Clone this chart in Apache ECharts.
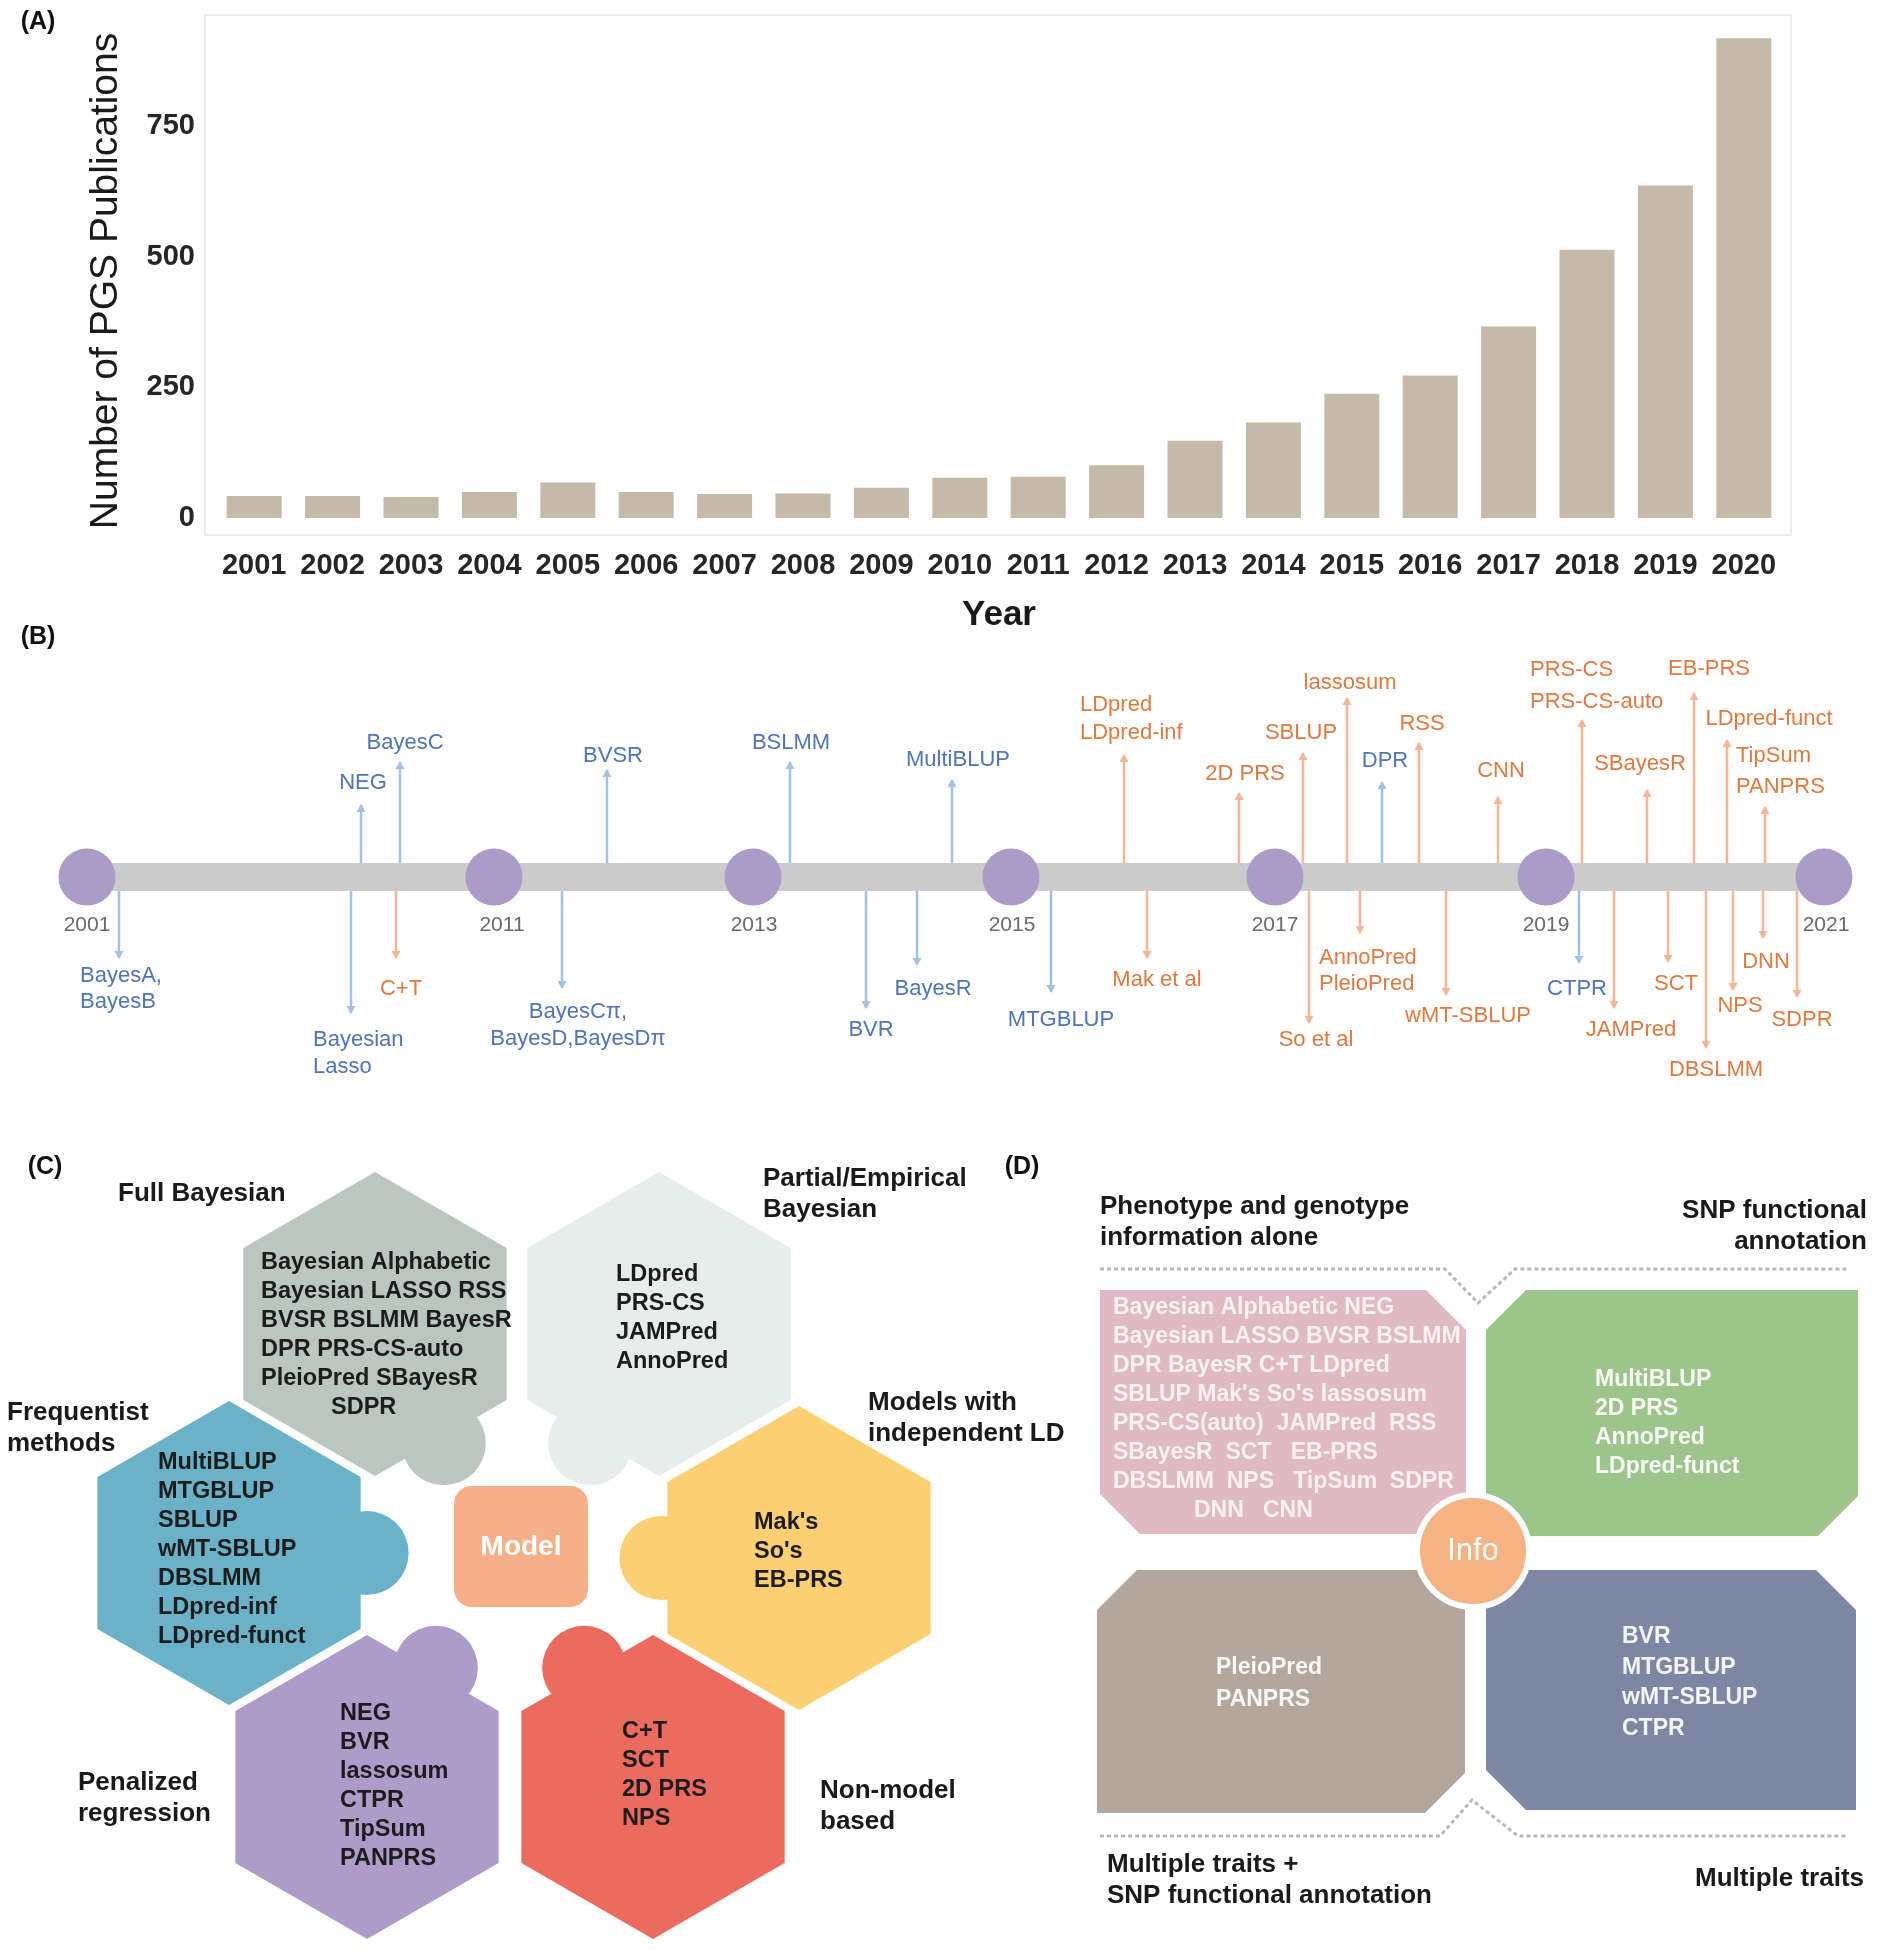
<!DOCTYPE html>
<html><head><meta charset="utf-8">
<script src="https://cdn.jsdelivr.net/npm/echarts@6/dist/echarts.min.js"></script>
<style>html,body{margin:0;padding:0;background:#fff}#c{width:1877px;height:1950px}</style>
</head><body><div id="c"></div>
<script>
const FONT = '"Liberation Sans", Arial, Helvetica, sans-serif';

// ---------- Panel A data ----------
const years = ['2001','2002','2003','2004','2005','2006','2007','2008','2009','2010','2011','2012','2013','2014','2015','2016','2017','2018','2019','2020'];
const publications = [42,42,40,50,68,50,46,47,58,77,79,101,148,183,238,273,367,514,637,919];

// ---------- Panel B data ----------
const milestoneYears = ['2001','2011','2013','2015','2017','2019','2021'];
const eventLabels = ['BayesA,\nBayesB','NEG','BayesC','Bayesian\nLasso','C+T','BVSR','BayesCπ,\nBayesD,BayesDπ','BSLMM','BVR','BayesR','MultiBLUP','MTGBLUP','LDpred\nLDpred-inf','Mak et al','2D PRS','SBLUP','So et al','lassosum','AnnoPred\nPleioPred','DPR','RSS','wMT-SBLUP','CNN','PRS-CS\nPRS-CS-auto','CTPR','JAMPred','SBayesR','SCT','EB-PRS','DBSLMM','LDpred-funct','NPS','TipSum\nPANPRS','DNN','SDPR'];
const eventKind = ['b','b','b','b','o','b','b','b','b','b','b','b','o','o','o','o','o','o','o','b','o','o','o','o','b','o','o','o','o','o','o','o','o','o','o'];

// ---------- Panel C data ----------
const hexTitles = ['Full Bayesian','Partial/Empirical\nBayesian','Frequentist\nmethods','Models with\nindependent LD','Penalized\nregression','Non-model\nbased'];
const hexMethods = [
  ['Bayesian Alphabetic','Bayesian LASSO RSS','BVSR BSLMM BayesR','DPR PRS-CS-auto','PleioPred SBayesR','SDPR'],
  ['LDpred','PRS-CS','JAMPred','AnnoPred'],
  ['MultiBLUP','MTGBLUP','SBLUP','wMT-SBLUP','DBSLMM','LDpred-inf','LDpred-funct'],
  ["Mak's","So's",'EB-PRS'],
  ['NEG','BVR','lassosum','CTPR','TipSum','PANPRS'],
  ['C+T','SCT','2D PRS','NPS']
];
const modelLabel = 'Model';

// ---------- Panel D data ----------
const infoTitles = ['Phenotype and genotype\ninformation alone','SNP functional\nannotation','Multiple traits +\nSNP functional annotation','Multiple traits'];
const infoMethods = [
  ['Bayesian Alphabetic NEG','Bayesian LASSO BVSR BSLMM','DPR BayesR C+T LDpred',"SBLUP Mak's So's lassosum",'PRS-CS(auto)  JAMPred  RSS','SBayesR  SCT   EB-PRS','DBSLMM  NPS   TipSum  SDPR','DNN   CNN'],
  ['MultiBLUP','2D PRS','AnnoPred','LDpred-funct'],
  ['PleioPred','PANPRS'],
  ['BVR','MTGBLUP','wMT-SBLUP','CTPR']
];
const infoLabel = 'Info';

// ================= layout / style =================
const TL_Y = 877;
const milestoneX = [87,494,753,1011,1275,1546,1824];
const stemX = [119,361,400,351,396,607,562,790,866,917,952,1051,1124,1147,1239,1303,1309,1347,1360,1382,1419,1446,1498,1582,1579,1614,1647,1668,1694,1706,1727,1733,1765,1763,1797];
const stemTip = [958,805,762,1013,958,770,988,762,1008,965,780,992,755,958,793,753,1023,698,933,782,743,995,797,720,963,1008,790,962,693,1048,740,990,807,938,997];
const labelX = [80,363,405,313,401,613,578,791,871,933,958,1061,1080,1157,1245,1301,1316,1350,1319,1385,1422,1468,1501,1530,1577,1631,1640,1676,1709,1716,1769,1740,1736,1766,1802];
const labelY = [976,783,743,1040,989,756,1012,743,1030,989,760,1020,705,980,774,733,1040,683,958,761,724,1016,771,670,989,1030,764,984,669,1070,719,1006,756,962,1020];
const labelAlign = ['left','center','center','left','center','center','center','center','center','center','center','center','left','center','center','center','center','center','left','center','center','center','center','left','center','center','center','center','center','center','center','center','left','center','center'];
const labelLH = [26,26,26,27,26,26,27,26,26,26,26,26,28,26,26,26,26,26,26,26,26,26,26,32,26,26,26,26,26,26,26,26,31,26,26];
const yearLabelDx = [0,8,1,1,0,0,2];
const STEM_BLUE = '#a3c1e5', STEM_OR = '#f6b595', TEXT_BLUE = '#4f74b9', TEXT_OR = '#e07940';

const hexCenter = [[375,1324],[659,1324],[229,1553],[799,1558],[367,1787],[653,1787]];
const hexColor = ['#b9c7c0','#e6eeeb','#6bb1c8','#fcd072','#ad9cc9','#eb6b5f'];
const knobAngle = [60,120,0,180,-60,-120];
const hexTextLeft = [261,616,158,754,340,622];
const hexTextFirst = [1263,1275,1463,1523,1714,1732];
const hexLastIndent = [70,0,0,0,0,0];
const hexTitlePos = [[118,1194],[763,1179],[7,1413],[868,1403],[78,1783],[820,1791]];
const HEX_R = 152;

const quadRect = [[1100,1290,1466,1534],[1486,1290,1858,1536],[1097,1570,1465,1813],[1486,1570,1856,1810]];
const quadChamfer = [['tr','bl'],['tl','br'],['tl','br'],['tr','bl']];
const quadColor = ['#dfbac3','#9cc48b','#b3a69c','#7d86a2'];
const quadTextColor = ['#faf1f3','#f6fbf3','#fbf8f5','#f4f5f9'];
const quadTextLeft = [1113,1595,1216,1622];
const quadTextFirst = [1308,1380,1668,1637];
const quadLH = [29,29,32,30.5];
const quadLastIndent = [81,0,0,0];
const quadTitlePos = [[1100,1207,'left'],[1867,1211,'right'],[1107,1865,'left'],[1864,1879,'right']];

function T(p, text, o){
  const lh = o.lh || Math.round(o.size*1.2);
  return {type:'text', x:p[0], y:p[1]-lh/2, z2:10, style:{text:text, fill:o.color, fontSize:o.size, fontWeight:o.weight||'normal', fontFamily:FONT, align:o.align||'left', verticalAlign:'top', lineHeight:lh}};
}

const chart = echarts.init(document.getElementById('c'));

const option = {
  animation:false,
  backgroundColor:'#ffffff',
  textStyle:{fontFamily:FONT},
  grid:[{left:215, top:22, width:1568, height:496}, {left:0, top:0, width:1877, height:1950}],
  xAxis:[
    {type:'category', gridIndex:0, data:years, axisLine:{show:false}, axisTick:{show:false},
     axisLabel:{interval:0, fontSize:29, fontWeight:'bold', color:'#262626', margin:33, fontFamily:FONT},
     name:'Year', nameLocation:'middle', nameGap:80, nameTextStyle:{fontSize:35, fontWeight:'bold', color:'#1a1a1a', fontFamily:FONT}},
    {type:'value', gridIndex:1, min:0, max:1877, show:false}
  ],
  yAxis:[
    {type:'value', gridIndex:0, min:0, max:950, interval:250, axisLine:{show:false}, axisTick:{show:false}, splitLine:{show:false},
     axisLabel:{fontSize:29, fontWeight:'bold', color:'#262626', margin:20, showMaxLabel:false, fontFamily:FONT},
     name:'Number of PGS Publications', nameLocation:'middle', nameGap:89,
     nameTextStyle:{fontSize:39, color:'#1a1a1a', fontFamily:FONT, padding:[0,22,0,0]}},
    {type:'value', gridIndex:1, min:0, max:1950, inverse:true, show:false}
  ],
  graphic:[
    {type:'rect', shape:{x:205, y:15, width:1586, height:520}, style:{fill:'none', stroke:'#ececec', lineWidth:2}, z:0},
    {type:'text', x:38, y:22, style:{text:'(A)', fontSize:25, fontWeight:'bold', fill:'#111', align:'center', verticalAlign:'middle', fontFamily:FONT}},
    {type:'text', x:38, y:637, style:{text:'(B)', fontSize:25, fontWeight:'bold', fill:'#111', align:'center', verticalAlign:'middle', fontFamily:FONT}},
    {type:'text', x:45, y:1167, style:{text:'(C)', fontSize:25, fontWeight:'bold', fill:'#111', align:'center', verticalAlign:'middle', fontFamily:FONT}},
    {type:'text', x:1022, y:1167, style:{text:'(D)', fontSize:25, fontWeight:'bold', fill:'#111', align:'center', verticalAlign:'middle', fontFamily:FONT}}
  ],
  series:[
    {type:'bar', xAxisIndex:0, yAxisIndex:0, data:publications, barWidth:55, itemStyle:{color:'#c5b9a7'}},
    // timeline events (stems + labels)
    {type:'custom', xAxisIndex:1, yAxisIndex:1, z:2, clip:false,
     data: stemX.map((x,i)=>[x, stemTip[i]]),
     renderItem:function(params, api){
       const i = params.dataIndex;
       const up = stemTip[i] < TL_Y;
       const base = api.coord([stemX[i], up ? TL_Y-12 : TL_Y+12]);
       const tip = api.coord([api.value(0), api.value(1)]);
       const lab = api.coord([labelX[i], labelY[i]]);
       const sc = eventKind[i]==='b' ? STEM_BLUE : STEM_OR;
       const tc = eventKind[i]==='b' ? TEXT_BLUE : TEXT_OR;
       const d = up ? 1 : -1;
       return {type:'group', children:[
         {type:'line', shape:{x1:base[0], y1:base[1], x2:tip[0], y2:tip[1]}, style:{stroke:sc, lineWidth:2.5}},
         {type:'polygon', shape:{points:[[tip[0], tip[1]-d*1],[tip[0]-4.5, tip[1]+d*7],[tip[0]+4.5, tip[1]+d*7]]}, style:{fill:sc}},
         T(lab, eventLabels[i], {size:22, color:tc, align:labelAlign[i], lh:labelLH[i]})
       ]};
     }},
    // timeline bar
    {type:'custom', xAxisIndex:1, yAxisIndex:1, z:3, clip:false,
     data:[[milestoneX[0], TL_Y]],
     renderItem:function(params, api){
       const a = api.coord([milestoneX[0], TL_Y-14]);
       const b = api.coord([milestoneX[milestoneX.length-1], TL_Y+14]);
       return {type:'rect', shape:{x:a[0], y:a[1], width:b[0]-a[0], height:b[1]-a[1]}, style:{fill:'#cbcbcb'}};
     }},
    // milestones
    {type:'custom', xAxisIndex:1, yAxisIndex:1, z:4, clip:false,
     data: milestoneX.map(x=>[x, TL_Y]),
     renderItem:function(params, api){
       const i = params.dataIndex;
       const c = api.coord([api.value(0), api.value(1)]);
       const l = api.coord([api.value(0)+yearLabelDx[i], 925]);
       return {type:'group', children:[
         {type:'circle', shape:{cx:c[0], cy:c[1], r:28.5}, style:{fill:'#ab9bc9'}},
         T(l, milestoneYears[i], {size:21, color:'#6a6a6a', align:'center'})
       ]};
     }},
    // panel C hexagons
    {type:'custom', xAxisIndex:1, yAxisIndex:1, z:2, clip:false,
     data: hexCenter.map(c=>[c[0], c[1]]),
     renderItem:function(params, api){
       const i = params.dataIndex;
       const c = api.coord([api.value(0), api.value(1)]);
       const pts = [];
       for (let k=0;k<6;k++){ const a=(-90+60*k)*Math.PI/180; pts.push([c[0]+HEX_R*Math.cos(a), c[1]+HEX_R*Math.sin(a)]); }
       const ka = knobAngle[i]*Math.PI/180, kd = HEX_R*Math.sqrt(3)/2 + 6;
       const children = [
         {type:'polygon', shape:{points:pts}, style:{fill:hexColor[i]}},
         {type:'circle', shape:{cx:c[0]+kd*Math.cos(ka), cy:c[1]+kd*Math.sin(ka), r:42}, style:{fill:hexColor[i]}}
       ];
       hexMethods[i].forEach((m,j)=>{
         const indent = (j===hexMethods[i].length-1) ? hexLastIndent[i] : 0;
         const p = api.coord([hexTextLeft[i]+indent, hexTextFirst[i]+j*29]);
         children.push(T(p, m, {size:23.5, color:'#1c1c1c', weight:'bold', lh:29}));
       });
       const tp = api.coord(hexTitlePos[i]);
       children.push(T(tp, hexTitles[i], {size:26, color:'#1a1a1a', weight:'bold', lh:31}));
       return {type:'group', children:children};
     }},
    // Model box
    {type:'custom', xAxisIndex:1, yAxisIndex:1, z:3, clip:false,
     data:[[521,1547]],
     renderItem:function(params, api){
       const a = api.coord([454,1486]), b = api.coord([588,1607]), c = api.coord([521,1547]);
       return {type:'group', children:[
         {type:'rect', shape:{x:a[0], y:a[1], width:b[0]-a[0], height:b[1]-a[1], r:18}, style:{fill:'#f5b08a'}},
         {type:'text', x:c[0], y:c[1], style:{text:modelLabel, fill:'#ffffff', fontSize:28, fontWeight:'bold', fontFamily:FONT, align:'center', verticalAlign:'middle'}}
       ]};
     }},
    // panel D quadrants
    {type:'custom', xAxisIndex:1, yAxisIndex:1, z:2, clip:false,
     data: quadRect.map(r=>[r[0], r[1]]),
     renderItem:function(params, api){
       const i = params.dataIndex;
       const r = quadRect[i];
       const a = api.coord([r[0], r[1]]), b = api.coord([r[2], r[3]]);
       const ch = quadChamfer[i], k = 40;
       const pts = [];
       if (ch.indexOf('tl')>=0){ pts.push([a[0], a[1]+k],[a[0]+k, a[1]]); } else pts.push([a[0], a[1]]);
       if (ch.indexOf('tr')>=0){ pts.push([b[0]-k, a[1]],[b[0], a[1]+k]); } else pts.push([b[0], a[1]]);
       if (ch.indexOf('br')>=0){ pts.push([b[0], b[1]-k],[b[0]-k, b[1]]); } else pts.push([b[0], b[1]]);
       if (ch.indexOf('bl')>=0){ pts.push([a[0]+k, b[1]],[a[0], b[1]-k]); } else pts.push([a[0], b[1]]);
       const children = [{type:'polygon', shape:{points:pts}, style:{fill:quadColor[i]}}];
       infoMethods[i].forEach((m,j)=>{
         const indent = (j===infoMethods[i].length-1) ? quadLastIndent[i] : 0;
         const p = api.coord([quadTextLeft[i]+indent, quadTextFirst[i]+j*quadLH[i]]);
         children.push(T(p, m, {size:23, color:quadTextColor[i], weight:'bold', lh:quadLH[i]}));
       });
       const tp = quadTitlePos[i];
       children.push(T(api.coord([tp[0], tp[1]]), infoTitles[i], {size:26, color:'#1a1a1a', weight:'bold', lh:31, align:tp[2]}));
       return {type:'group', children:children};
     }},
    // panel D dashed guides + Info circle
    {type:'custom', xAxisIndex:1, yAxisIndex:1, z:4, clip:false,
     data:[[1473,1551]],
     renderItem:function(params, api){
       const top = [[1100,1269],[1445,1269],[1478,1303],[1515,1269],[1847,1269]].map(p=>api.coord(p));
       const bot = [[1100,1836],[1440,1836],[1472,1800],[1518,1836],[1847,1836]].map(p=>api.coord(p));
       const c = api.coord([api.value(0), api.value(1)]);
       return {type:'group', children:[
         {type:'polyline', shape:{points:top}, style:{stroke:'#b8b8b8', lineWidth:3, lineDash:[4,3], fill:null}},
         {type:'polyline', shape:{points:bot}, style:{stroke:'#b8b8b8', lineWidth:3, lineDash:[4,3], fill:null}},
         {type:'circle', shape:{cx:c[0], cy:c[1], r:56}, style:{fill:'#f5b283', stroke:'#ffffff', lineWidth:6}},
         {type:'text', x:c[0], y:c[1], style:{text:infoLabel, fill:'#ffffff', fontSize:31, fontFamily:FONT, align:'center', verticalAlign:'middle'}}
       ]};
     }}
  ]
};
chart.setOption(option);
</script>
</body></html>
